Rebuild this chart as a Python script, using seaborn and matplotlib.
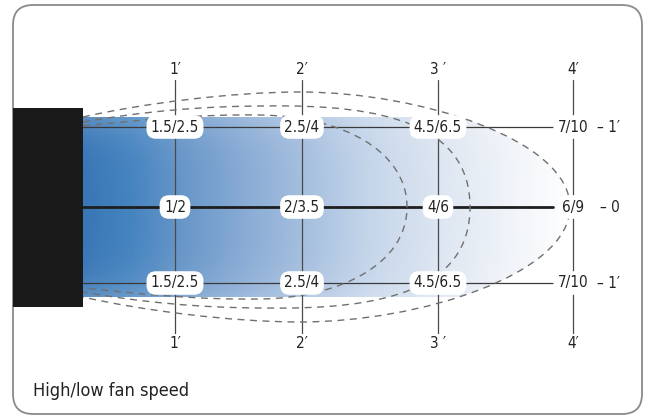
import numpy as np
import matplotlib
matplotlib.use("Agg")
import matplotlib.pyplot as plt
import seaborn as sns
from matplotlib import font_manager as fm
from matplotlib.path import Path
from matplotlib.patches import PathPatch, FancyBboxPatch, Rectangle
from matplotlib.colors import LinearSegmentedColormap

# ---- data ----
distance_labels = ["1\u2032", "2\u2032", "3 \u2032", "4\u2032"]
row_top = ["1.5/2.5", "2.5/4", "4.5/6.5", "7/10"]
row_mid = ["1/2", "2/3.5", "4/6", "6/9"]
row_bot = ["1.5/2.5", "2.5/4", "4.5/6.5", "7/10"]
side_labels = ["\u2013 1\u2032", "\u2013 0", "\u2013 1\u2032"]
caption = "High/low fan speed"

# ---- layout (pixel space) ----
W, H = 650, 417
col_x = [175, 302, 438, 573]
row_y = [127, 207, 283]
cy = 207
fan_x0, fan_x1, fan_y0, fan_y1 = 13, 83, 108, 307

sns.set_theme(style="white")

# pick a condensed face if one is installed
cond = {"condensed", "semi-condensed", "extra-condensed", "ultra-condensed"}
pref = ["Liberation Sans Narrow", "Open Sans", "Noto Sans", "Roboto", "DejaVu Sans", "Lato"]
found = None
cands = [f for f in fm.fontManager.ttflist
         if (f.stretch in cond or "Narrow" in f.name or "Condensed" in f.name)
         and f.style == "normal" and f.weight in (400, "normal", "regular", "book")]
for p in pref:
    for f in cands:
        if f.name == p:
            found = f
            break
    if found:
        break
if found is None and cands:
    found = cands[0]
if found is not None:
    FP = fm.FontProperties(fname=found.fname)
    scale = 1.0
else:
    FP = fm.FontProperties(family=["Roboto", "DejaVu Sans"])
    scale = 0.88

plt.rcParams["font.family"] = ["DejaVu Sans"]

fig = plt.figure(figsize=(W / 100, H / 100), dpi=100)
ax = fig.add_axes([0, 0, 1, 1])
ax.set_xlim(0, W)
ax.set_ylim(H, 0)
ax.axis("off")


def txt(x, y, s, size, **kw):
    fp = FP.copy()
    fp.set_size(size * scale)
    return ax.text(x, y, s, fontproperties=fp, **kw)


# frame
frame = FancyBboxPatch((13, 5), 629, 409, boxstyle="round,pad=0,rounding_size=20",
                       fc="white", ec="#8a8a8a", lw=1.3, zorder=0)
ax.add_patch(frame)


def plume(p_start, seg1, peak, seg2, tip):
    """Upper half of a plume outline mirrored around the centre line."""
    def mir(p):
        return (p[0], 2 * cy - p[1])
    verts = [p_start, seg1[0], seg1[1], peak, seg2[0], seg2[1], tip,
             mir(seg2[1]), mir(seg2[0]), mir(peak), mir(seg1[1]), mir(seg1[0]), mir(p_start)]
    codes = [Path.MOVETO] + [Path.CURVE4] * 12
    return verts, codes


outer_v, outer_c = plume((83, 117), [(140, 104), (230, 92)], (300, 92),
                         [(420, 92), (570, 140)], (570, 207))
mid_v, mid_c = plume((83, 122), [(140, 112), (200, 106)], (265, 106),
                     [(385, 104), (470, 125)], (470, 207))
inner_v, inner_c = plume((83, 126), [(140, 120), (200, 114)], (260, 115),
                         [(340, 116), (407, 150)], (407, 207))

# gradient fill clipped to the outer plume
fill_path = Path(outer_v + [(83, 297), (83, 117)],
                 outer_c + [Path.LINETO, Path.CLOSEPOLY])
clip = PathPatch(fill_path, fc="none", ec="none")
ax.add_patch(clip)
stops = [(0.0, "#3876b6"), (0.095, "#4684c0"), (0.187, "#6494c7"),
         (0.32, "#87aad4"), (0.44, "#a3bddd"), (0.58, "#c4d5ea"),
         (0.72, "#dce5f1"), (0.85, "#eef2f8"), (1.0, "#ffffff")]
cmap = LinearSegmentedColormap.from_list("plume", stops)
gx = np.linspace(0, 1, 300)
gy = np.linspace(-1, 1, 120)
base = cmap(gx)[:, :3]
img = np.repeat(base[None, :, :], len(gy), axis=0)
fade = (0.18 * gy ** 4)[:, None, None]
img = img * (1 - fade) + fade
im = ax.imshow(img, extent=(83, 575, 297, 117), aspect="auto", zorder=1,
               interpolation="bilinear")
im.set_clip_path(clip)

for v, c in [(outer_v, outer_c), (mid_v, mid_c), (inner_v, inner_c)]:
    ax.add_patch(PathPatch(Path(v, c), fc="none", ec="#707070", lw=1.0,
                           ls=(0, (5, 4)), zorder=3))

# fan unit
ax.add_patch(Rectangle((fan_x0, fan_y0), fan_x1 - fan_x0, fan_y1 - fan_y0,
                       fc="#1b1a1a", ec="none", zorder=4))

# grid lines
for x in col_x:
    ax.plot([x, x], [80, 333], color="#4a4a4a", lw=0.9, zorder=2)
ax.plot([fan_x1, 553], [row_y[0], row_y[0]], color="#3a3a3a", lw=0.9, zorder=2)
ax.plot([fan_x1, 553], [row_y[2], row_y[2]], color="#3a3a3a", lw=0.9, zorder=2)
ax.plot([fan_x1, 553], [row_y[1], row_y[1]], color="#1e1e1e", lw=2.0, zorder=2)

# distance labels top and bottom
for x, t in zip(col_x, distance_labels):
    txt(x, 69, t, 11, ha="center", va="center", color="#222222", zorder=6)
    txt(x, 343, t, 11, ha="center", va="center", color="#222222", zorder=6)

# node labels with white bubbles
bub = dict(boxstyle="round,pad=0.28,rounding_size=0.62", fc="white", ec="none")
for y, row in zip(row_y, [row_top, row_mid, row_bot]):
    for x, t in zip(col_x, row):
        txt(x, y, t, 11, ha="center", va="center", color="#222222",
            bbox=bub, zorder=6)

# side labels
for y, t in zip(row_y, side_labels):
    txt(597 if "1" in t else 600, y, t, 11, ha="left", va="center",
        color="#222222", zorder=6)

txt(33, 391, caption, 13, ha="left", va="center", color="#222222")

fig.savefig("out.png", dpi=100)
